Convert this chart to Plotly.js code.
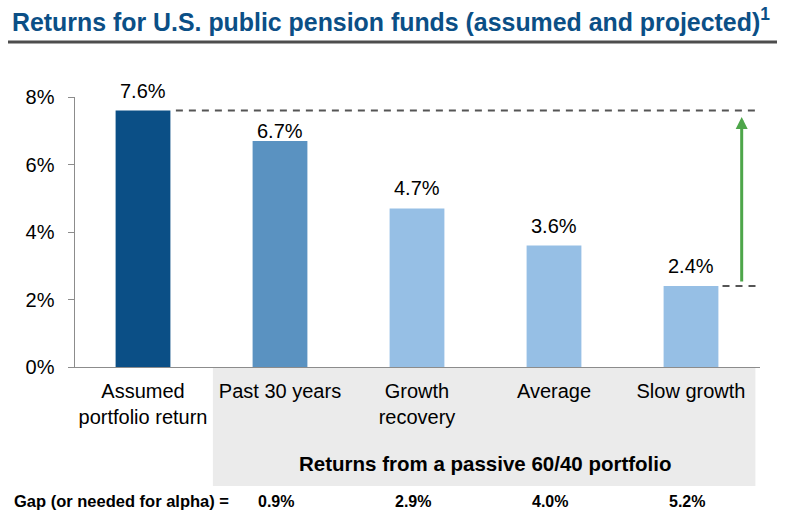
<!DOCTYPE html>
<html><head><meta charset="utf-8">
<script src="https://cdn.plot.ly/plotly-3.0.1.min.js"></script>
<style>html,body{margin:0;padding:0;background:#fff}</style>
</head><body><div id="chart" style="width:789px;height:522px"></div>
<script>
const categories = ["Assumed<br>portfolio return", "Past 30 years", "Growth<br>recovery", "Average", "Slow growth"];
const returns = [7.6, 6.7, 4.7, 3.6, 2.4];
const barColors = ["#0b4f86", "#5a92c1", "#96bfe5", "#96bfe5", "#96bfe5"];
const gapValues = [0.9, 2.9, 4.0, 5.2];
const yTickVals = [0, 2, 4, 6, 8];
const yTickText = ["0%", "2%", "4%", "6%", "8%"];
const groupLabel = "Returns from a passive 60/40 portfolio";
const gapLabel = "Gap (or needed for alpha) =";

const W = 789, H = 522;
const px = v => v / W, py = v => 1 - v / H;
const xIdx = categories.map((c, i) => i);
const FONT = 'Liberation Sans, Arial, sans-serif';

const annotations = [];
// value labels above bars
returns.forEach((v, i) => {
  annotations.push({x: i, xref: 'x', y: v, yref: 'y', yanchor: 'bottom', yshift: i === 1 ? -3 : 7,
    text: v.toFixed(1) + '%', showarrow: false, font: {family: FONT, size: 20, color: '#000'}});
});
gapValues.forEach((g, i) => {
  annotations.push({x: i + 1 - 0.03, xref: 'x', xanchor: 'center', y: py(501), yref: 'paper', yanchor: 'middle',
    text: '<b>' + g.toFixed(1) + '%</b>', showarrow: false, font: {family: FONT, size: 16, color: '#000'}});
});
annotations.push({x: px(12), xref: 'paper', xanchor: 'left', y: py(501), yref: 'paper', yanchor: 'middle',
  text: '<b>' + gapLabel + '</b>', showarrow: false, font: {family: FONT, size: 16.5, color: '#000'}});
annotations.push({x: 2.5, xref: 'x', xanchor: 'center', y: py(463), yref: 'paper', yanchor: 'middle',
  text: '<b>' + groupLabel + '</b>', showarrow: false, font: {family: FONT, size: 20.5, color: '#000'}});
// green arrow from slow growth level up to assumed level
annotations.push({x: 4.37, y: returns[0] - 0.19, xref: 'x', yref: 'y', ax: 4.37, ay: returns[4] + 0.09,
  axref: 'x', ayref: 'y', text: '', showarrow: true, arrowhead: 2, arrowsize: 0.8, arrowwidth: 3, arrowcolor: '#4ea64a'});

const shapes = [
  {type: 'line', xref: 'paper', yref: 'paper', x0: px(8), x1: px(777), y0: py(42), y1: py(42), line: {color: '#4d4d4d', width: 3}},
  {type: 'rect', xref: 'x', yref: 'paper', x0: 0.51, x1: 4.47, y0: py(486), y1: py(368), fillcolor: '#ebebeb', line: {width: 0}, layer: 'below'},
  {type: 'line', xref: 'x', yref: 'y', x0: 0.24, x1: 4.6, y0: returns[0], y1: returns[0], line: {color: '#555', width: 1.8, dash: '7px,6px'}},
  {type: 'line', xref: 'x', yref: 'y', x0: 4.23, x1: 4.6, y0: returns[4], y1: returns[4], line: {color: '#555', width: 1.8, dash: '7px,6px'}}
];

const trace = {
  type: 'bar', x: xIdx, y: returns, width: 0.4,
  marker: {color: barColors, line: {width: 0}},
  hoverinfo: 'skip'
};

const layout = {
  width: W, height: H, margin: {l: 0, r: 0, t: 0, b: 0},
  paper_bgcolor: '#fff', plot_bgcolor: 'rgba(0,0,0,0)',
  showlegend: false,
  title: {text: '<b>Returns for U.S. public pension funds (assumed and projected)<sup>1</sup></b>',
    x: px(12), xanchor: 'left', xref: 'paper', y: py(22), yanchor: 'middle', yref: 'paper',
    font: {family: FONT, size: 24.9, color: '#0b4f86'}},
  xaxis: {domain: [px(74.5), px(759.5)], range: [-0.5, 4.5], tickvals: xIdx, ticktext: categories,
    showline: true, linecolor: '#8c8c8c', linewidth: 1, ticks: '', showgrid: false, zeroline: false,
    ticklabelstandoff: 6,
    tickfont: {family: FONT, size: 20, color: '#000'}, fixedrange: true},
  yaxis: {domain: [py(367), py(97)], range: [0, 8], tickvals: yTickVals, ticktext: yTickText,
    showline: true, linecolor: '#8c8c8c', linewidth: 1, ticks: 'outside', ticklen: 6, tickcolor: '#8c8c8c',
    showgrid: false, zeroline: false, ticklabelstandoff: 9,
    tickfont: {family: FONT, size: 20, color: '#000'}, fixedrange: true},
  shapes: shapes, annotations: annotations
};

Plotly.newPlot('chart', [trace], layout, {displayModeBar: false, staticPlot: true});
</script></body></html>
